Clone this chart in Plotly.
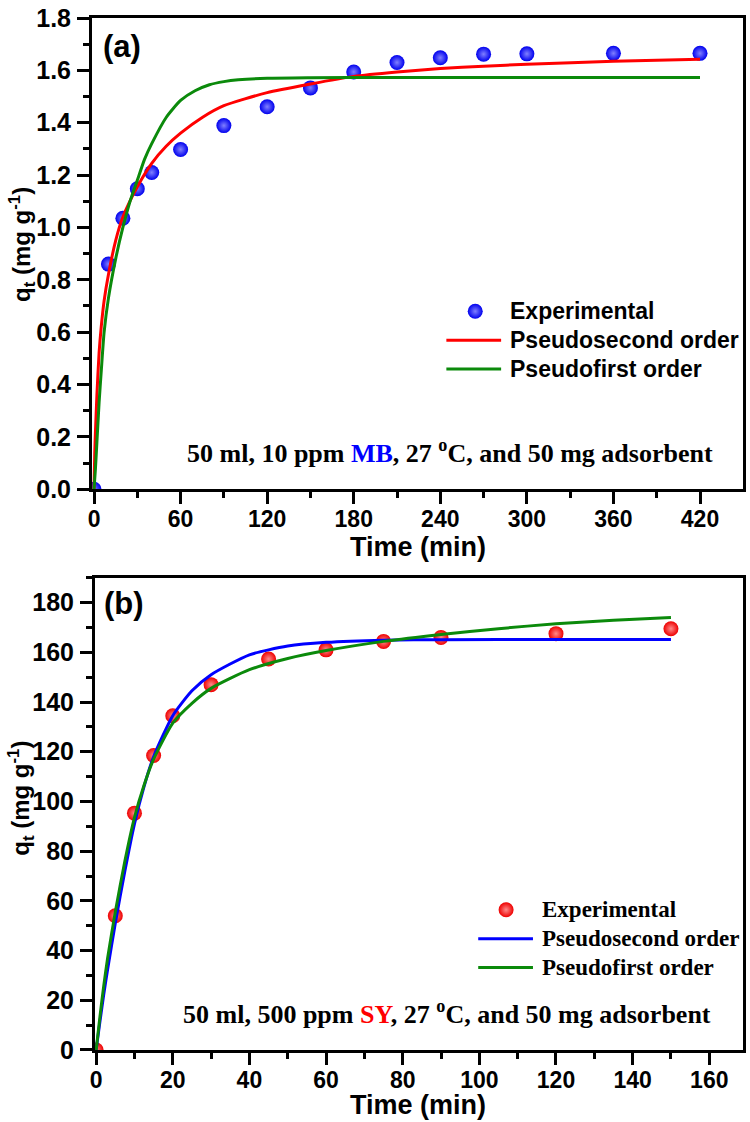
import plotly.graph_objects as go

# ---------------- Panel (a): MB ----------------
t_a_exp = [0, 10, 20, 30, 40, 60, 90, 120, 150, 180, 210, 240, 270, 300, 360, 420]
q_a_exp = [0, 0.86, 1.035, 1.148, 1.21, 1.298, 1.389, 1.461, 1.533, 1.594, 1.630, 1.648,
           1.662, 1.663, 1.665, 1.665]

t_a_pso = [0, 0.5, 1, 2, 3.5, 5, 7, 10, 15, 20, 30, 40, 50, 60, 75, 90, 120, 150, 180,
           210, 240, 270, 300, 360, 420]
q_a_pso = [0, 0.14, 0.22, 0.36, 0.52, 0.62, 0.72, 0.82, 0.95, 1.04, 1.155, 1.245, 1.31,
           1.36, 1.42, 1.465, 1.515, 1.548, 1.577, 1.594, 1.607, 1.616, 1.623, 1.635, 1.642]

t_a_pfo = [0, 1, 2, 3.5, 5, 7, 10, 15, 20, 25, 30, 35, 40, 50, 60, 70, 80, 90, 100, 120,
           150, 200, 300, 420]
q_a_pfo = [0, 0.08, 0.18, 0.33, 0.45, 0.60, 0.73, 0.88, 1.00, 1.10, 1.18, 1.26, 1.32,
           1.42, 1.485, 1.522, 1.545, 1.557, 1.564, 1.570, 1.572, 1.573, 1.573, 1.573]

# ---------------- Panel (b): SY ----------------
t_b_exp = [0, 5, 10, 15, 20, 30, 45, 60, 75, 90, 120, 150]
q_b_exp = [0, 54, 95.3, 118.5, 134.5, 147, 157.3, 161, 164.4, 166, 167.5, 169.5]

t_b_pso = [0, 1, 2, 3, 5, 7.5, 10, 12.5, 15, 20, 25, 30, 40, 50, 60, 75, 90, 120, 150]
q_b_pso = [0, 11.5, 22.5, 32.5, 51, 72, 91, 106, 118, 134.5, 144.5, 151, 159, 162.5,
           164, 164.9, 165.1, 165.2, 165.2]

t_b_pfo = [0, 1, 2, 3, 5, 7.5, 10, 12.5, 15, 20, 25, 30, 40, 50, 60, 75, 90, 105, 120,
           135, 150]
q_b_pfo = [0, 13.5, 26, 37, 55.5, 76, 93.5, 106.5, 117, 131.5, 139.5, 145.5, 153, 157.5,
           160.7, 164.4, 167.2, 169.5, 171.5, 172.9, 174]

x_ticks_a = [0, 60, 120, 180, 240, 300, 360, 420]
x_ticks_b = [0, 20, 40, 60, 80, 100, 120, 140, 160]

legend_names = ["Experimental", "Pseudosecond order", "Pseudofirst order"]

SANS = "Liberation Sans"
SERIF = "Liberation Serif"
GREEN = "#0b8a0b"
BLUE_PT, BLUE_HI = "#0000ee", "#8080ff"
RED_PT, RED_HI = "#ee0000", "#ff8a8a"

# ---- page geometry (pixels) ----
W, H = 750, 1122
PL, PR, PT, PB = 92, 746, 12, 1050     # full plotting region
A_TOP, A_BOT = 12, 486
B_TOP, B_BOT = 575, 1050
B_LEFT = 95


def xp(p):
    return (p - PL) / (PR - PL)


def yp(p):
    return (PB - p) / (PB - PT)


fig = go.Figure()

# panel (a)
fig.add_trace(go.Scatter(
    x=t_a_exp, y=q_a_exp, mode="markers", name=legend_names[0],
    marker=dict(size=15, color=BLUE_PT, line=dict(width=0),
                gradient=dict(type="radial", color=BLUE_HI)),
    xaxis="x", yaxis="y", showlegend=False))
fig.add_trace(go.Scatter(
    x=t_a_pso, y=q_a_pso, mode="lines", name=legend_names[1],
    line=dict(color="#ff0000", width=3, shape="spline", smoothing=0.6),
    xaxis="x", yaxis="y", showlegend=False))
fig.add_trace(go.Scatter(
    x=t_a_pfo, y=q_a_pfo, mode="lines", name=legend_names[2],
    line=dict(color=GREEN, width=3, shape="spline", smoothing=0.6),
    xaxis="x", yaxis="y", showlegend=False))

# panel (b)
fig.add_trace(go.Scatter(
    x=t_b_exp, y=q_b_exp, mode="markers", name=legend_names[0],
    marker=dict(size=15, color=RED_PT, line=dict(width=0),
                gradient=dict(type="radial", color=RED_HI)),
    xaxis="x2", yaxis="y2", showlegend=False))
fig.add_trace(go.Scatter(
    x=t_b_pso, y=q_b_pso, mode="lines", name=legend_names[1],
    line=dict(color="#0000ff", width=3, shape="spline", smoothing=0.6),
    xaxis="x2", yaxis="y2", showlegend=False))
fig.add_trace(go.Scatter(
    x=t_b_pfo, y=q_b_pfo, mode="lines", name=legend_names[2],
    line=dict(color=GREEN, width=3, shape="spline", smoothing=0.6),
    xaxis="x2", yaxis="y2", showlegend=False))

# ---- hand-made legend keys (marker on a hidden pixel-scaled overlay axis) ----
LEG_A = dict(mark_x=477, line_x0=448, line_x1=503, text_x=510, rows=[307, 336, 365])
LEG_B = dict(mark_x=508, line_x0=480, line_x1=535, text_x=542, rows=[909, 938, 967])

fig.add_trace(go.Scatter(
    x=[LEG_A["mark_x"]], y=[LEG_A["rows"][0]], mode="markers", showlegend=False,
    marker=dict(size=15, color=BLUE_PT, line=dict(width=0),
                gradient=dict(type="radial", color=BLUE_HI)),
    xaxis="x3", yaxis="y3", cliponaxis=False, hoverinfo="skip"))
fig.add_trace(go.Scatter(
    x=[LEG_B["mark_x"]], y=[LEG_B["rows"][0]], mode="markers", showlegend=False,
    marker=dict(size=15, color=RED_PT, line=dict(width=0),
                gradient=dict(type="radial", color=RED_HI)),
    xaxis="x3", yaxis="y3", cliponaxis=False, hoverinfo="skip"))

for leg, cols in ((LEG_A, ["#ff0000", GREEN]), (LEG_B, ["#0000ff", GREEN])):
    for row, col in zip(leg["rows"][1:], cols):
        fig.add_shape(type="line", xref="paper", yref="paper", x0=xp(leg["line_x0"]),
                      x1=xp(leg["line_x1"]), y0=yp(row), y1=yp(row),
                      line=dict(color=col, width=3))

for name, row in zip(legend_names, LEG_A["rows"]):
    fig.add_annotation(xref="paper", yref="paper", x=xp(LEG_A["text_x"]), y=yp(row),
                       text=name, showarrow=False, xanchor="left", yanchor="middle",
                       font=dict(family=SANS, size=23, color="black", weight="bold"))
for name, row in zip(legend_names, LEG_B["rows"]):
    fig.add_annotation(xref="paper", yref="paper", x=xp(LEG_B["text_x"]), y=yp(row),
                       text=name, showarrow=False, xanchor="left", yanchor="middle",
                       font=dict(family=SERIF, size=23, color="black", weight="bold"))

xtickfont = dict(family=SANS, size=23, color="black", weight="bold")
ytickfont = dict(family=SANS, size=25, color="black", weight="bold")
minor_common = dict(ticks="outside", ticklen=6, tickwidth=2.5, tickcolor="black")
common = dict(showline=True, linewidth=3, linecolor="black", mirror=True,
              ticks="outside", ticklen=12, tickwidth=2.5, tickcolor="black",
              showgrid=False, zeroline=False, ticklabeloverflow="allow")

fig.update_layout(
    width=W, height=H,
    margin=dict(l=PL, r=W - PR, t=PT, b=H - PB),
    paper_bgcolor="white", plot_bgcolor="rgba(0,0,0,0)",
    showlegend=False,
    xaxis=dict(domain=[0, 1], anchor="y", range=[-1.4, 449.8], tickvals=x_ticks_a,
               minor=dict(dtick=30, tick0=0, **minor_common), ticklabelstandoff=-5,
               tickfont=xtickfont, **common),
    yaxis=dict(domain=[yp(A_BOT), yp(A_TOP)], anchor="x", range=[0, 1.8], dtick=0.2,
               tick0=0, tickformat=".1f", minor=dict(dtick=0.1, tick0=0, **minor_common),
               ticklabelstandoff=1, tickfont=ytickfont, **common),
    xaxis2=dict(domain=[xp(B_LEFT), 1], anchor="y2", range=[-0.3, 168.8],
                tickvals=x_ticks_b, minor=dict(dtick=10, tick0=0, **minor_common),
                ticklabelstandoff=-5, tickfont=xtickfont, **common),
    yaxis2=dict(domain=[yp(B_BOT), yp(B_TOP)], anchor="x2", range=[0, 190], dtick=20,
                tick0=0, minor=dict(dtick=10, tick0=0, **minor_common),
                ticklabelstandoff=1, tickfont=ytickfont, **common),
    xaxis3=dict(domain=[0, 1], anchor="y3", range=[PL, PR], visible=False,
                fixedrange=True),
    yaxis3=dict(domain=[0, 1], anchor="x3", range=[PB, PT], visible=False,
                fixedrange=True),
)

title_font = dict(family=SANS, size=27, color="black", weight="bold")
ytitle_font = dict(family=SANS, size=24, color="black", weight="bold")
label_font = dict(family=SANS, size=31, color="black", weight="bold")
note_font = dict(family=SERIF, size=26, color="black", weight="bold")

# axis titles
for ypix in (544, 1105):
    fig.add_annotation(xref="paper", yref="paper", x=xp(419), y=yp(ypix),
                       text="Time (min)", showarrow=False, xanchor="center",
                       yanchor="middle", font=title_font)
for ypix in (240, 797):
    fig.add_annotation(xref="paper", yref="paper", x=xp(21), y=yp(ypix),
                       text="q<sub>t</sub> (mg g<sup>-1</sup>)", textangle=-90,
                       showarrow=False, xanchor="center", yanchor="middle",
                       font=ytitle_font)

# panel labels
fig.add_annotation(xref="paper", yref="paper", x=xp(122), y=yp(41), text="(a)",
                   showarrow=False, xanchor="center", yanchor="middle", font=label_font)
fig.add_annotation(xref="paper", yref="paper", x=xp(124), y=yp(601), text="(b)",
                   showarrow=False, xanchor="center", yanchor="middle", font=label_font)

# condition notes
fig.add_annotation(xref="paper", yref="paper", x=xp(452), y=yp(448),
                   text='50 ml, 10 ppm <span style="color:#0000ff">MB</span>, 27 <sup>o</sup>C, and 50 mg adsorbent',
                   showarrow=False, xanchor="center", yanchor="middle", font=note_font)
fig.add_annotation(xref="paper", yref="paper", x=xp(449), y=yp(1012),
                   text='50 ml, 500 ppm <span style="color:#ff0000">SY</span>, 27 <sup>o</sup>C, and 50 mg adsorbent',
                   showarrow=False, xanchor="center", yanchor="middle", font=note_font)

fig.write_html("out.html", config={"displayModeBar": False},
               post_script="document.body.style.margin='0px';document.body.style.padding='0px';")
